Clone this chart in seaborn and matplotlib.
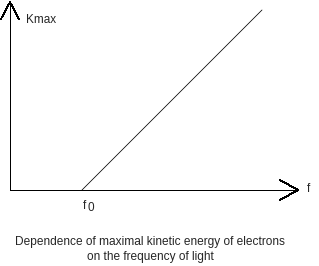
import numpy as np
import pandas as pd
import matplotlib
matplotlib.use("Agg")
import matplotlib.pyplot as plt
import seaborn as sns

# photoelectric effect: Kmax vs frequency (arbitrary units)
frequency = [72, 252]
kmax = [0, 180]
f0_label = "f"
f0_sub = "0"
x_label = "f"
y_label = "Kmax"
caption = ["Dependence of maximal kinetic energy of electrons",
           "on the frequency of light"]

sns.set_style("white")
plt.rcParams["font.family"] = ["Liberation Sans", "DejaVu Sans"]

W, H = 319, 266
fig = plt.figure(figsize=(W / 100, H / 100), dpi=100)
fig.patch.set_facecolor("white")
# axes origin at pixel (10, 190), x range 288 px, y range 188 px
ax = fig.add_axes([10 / W, (H - 190) / H, 288 / W, 188 / H])
ax.set_xlim(0, 288)
ax.set_ylim(0, 188)
ax.axis("off")

df = pd.DataFrame({"f": frequency, "k": kmax})
sns.lineplot(data=df, x="f", y="k", ax=ax, color="black", lw=0.55)

kw = dict(color="black", lw=0.6, clip_on=False, antialiased=False)
# axes with open arrowheads
ax.plot([0, 0], [0, 188], **kw)
ax.plot([-9, 0, 9], [171, 188, 171], **kw)
ax.plot([0, 288], [0, 0], **kw)
ax.plot([270, 288, 270], [10, 0, -10], **kw)

ax.text(16, 170, y_label, fontsize=8.5, ha="left", va="center")
ax.text(297, 1, x_label, fontsize=8.5, ha="left", va="center")
ax.text(73, -16, f0_label, fontsize=8.5, ha="left", va="center")
ax.text(78, -18, f0_sub, fontsize=8.5, ha="left", va="center")

fig.text(150 / W, 1 - 242 / H, caption[0], fontsize=8.6, ha="center", va="center")
fig.text(150 / W, 1 - 257 / H, caption[1], fontsize=8.6, ha="center", va="center")

fig.savefig("out.png", dpi=100, facecolor="white")
